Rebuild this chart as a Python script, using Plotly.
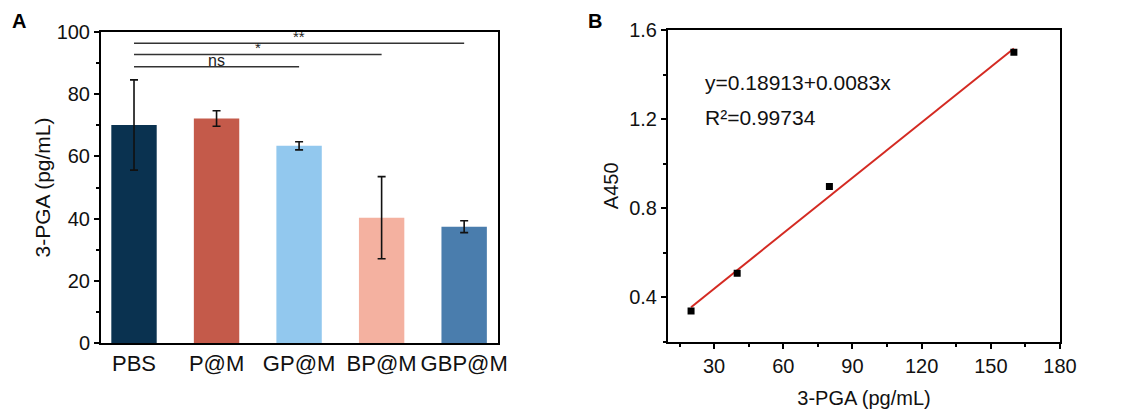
import plotly.graph_objects as go

# ---------- Panel A data ----------
groups = ["PBS", "P@M", "GP@M", "BP@M", "GBP@M"]
means = [70.1, 72.2, 63.4, 40.3, 37.4]
errors = [14.5, 2.5, 1.3, 13.2, 1.9]
bar_colors = ["#0a3250", "#c45a4a", "#92c8ee", "#f4b1a0", "#4a7dad"]
sig_start = [0, 0, 0]
sig_end = [2, 3, 4]
sig_y = [88.8, 92.8, 96.4]
sig_label = ["ns", "*", "**"]
a_yticks = [0, 20, 40, 60, 80, 100]

# ---------- Panel B data ----------
conc = [20, 40, 80, 160]
a450 = [0.338, 0.508, 0.897, 1.50]
fit_x = [20, 160]
fit_y = [0.355, 1.517]
b_xticks = [30, 60, 90, 120, 150, 180]
b_yticks = [0.4, 0.8, 1.2, 1.6]
eq_text = ["y=0.18913+0.0083x", "R²=0.99734"]
eq_pos_y = [1.364, 1.207]

FONT = "Arial, Liberation Sans, sans-serif"
pos = list(range(len(groups)))

fig = go.Figure()
fig.add_trace(go.Bar(
    x=pos, y=means, width=0.55,
    marker=dict(color=bar_colors, line=dict(width=0)),
    error_y=dict(type="data", array=errors, visible=True, color="#111111",
                 thickness=1.6, width=4),
    xaxis="x", yaxis="y", showlegend=False))

fig.add_trace(go.Scatter(
    x=fit_x, y=fit_y, mode="lines", line=dict(color="#d42a22", width=2),
    xaxis="x2", yaxis="y2", showlegend=False))
fig.add_trace(go.Scatter(
    x=conc, y=a450, mode="markers",
    marker=dict(symbol="square", size=7, color="black"),
    xaxis="x2", yaxis="y2", showlegend=False))

shapes = []
annotations = []
for s, e, yv, lab in zip(sig_start, sig_end, sig_y, sig_label):
    shapes.append(dict(type="line", xref="x", yref="y", x0=s, x1=e, y0=yv, y1=yv,
                       line=dict(color="#333333", width=1.5)))
    annotations.append(dict(xref="x", yref="y", x=(s + e) / 2, y=yv, text=lab,
                            showarrow=False, yanchor="bottom", yshift=-4,
                            font=dict(family=FONT, size=16 if lab == "ns" else 15,
                                      color="#222222")))

for t, yv in zip(eq_text, eq_pos_y):
    annotations.append(dict(xref="x2", yref="y2", x=25.2, y=yv,
                            text=t, showarrow=False, xanchor="left",
                            font=dict(family=FONT, size=21, color="#111111")))

annotations.append(dict(xref="paper", yref="paper", x=10 / 1126, y=1 - 21 / 416,
                        text="<b>A</b>", showarrow=False, xanchor="left",
                        yanchor="middle",
                        font=dict(family=FONT, size=20, color="black")))
annotations.append(dict(xref="paper", yref="paper", x=586 / 1126, y=1 - 21 / 416,
                        text="<b>B</b>", showarrow=False, xanchor="left",
                        yanchor="middle",
                        font=dict(family=FONT, size=20, color="black")))

axis_common = dict(showline=True, linecolor="black", linewidth=2, mirror=True,
                   showgrid=False, zeroline=False, ticks="outside",
                   tickcolor="black", tickwidth=2, ticklen=5, automargin=False,
                   tickfont=dict(family=FONT, size=20, color="#111111"))

fig.update_layout(
    width=1126, height=416,
    margin=dict(l=0, r=0, t=0, b=0, autoexpand=False),
    paper_bgcolor="white", plot_bgcolor="white",
    xaxis=dict(**{**axis_common, "ticks": "",
                  "tickfont": dict(family=FONT, size=22, color="#111111")},
               domain=[101 / 1126, 498 / 1126], range=[-0.4, 4.41],
               tickmode="array", tickvals=pos, ticktext=groups, anchor="y"),
    yaxis=dict(**axis_common, domain=[73 / 416, 384 / 416], range=[0, 100],
               tickmode="array", tickvals=a_yticks, anchor="x",
               minor=dict(ticks="outside", dtick=10, ticklen=3, tickwidth=2,
                          tickcolor="black", showgrid=False),
               title=dict(text="3-PGA (pg/mL)", standoff=0,
                          font=dict(family=FONT, size=21, color="#111111"))),
    xaxis2=dict(**axis_common, domain=[668 / 1126, 1060 / 1126], range=[10, 180],
                tickmode="array", tickvals=b_xticks, anchor="y2",
                minor=dict(ticks="outside", dtick=15, tick0=0, ticklen=3,
                           tickwidth=2, tickcolor="black", showgrid=False),
                title=dict(text="3-PGA (pg/mL)", standoff=15,
                           font=dict(family=FONT, size=20, color="#111111"))),
    yaxis2=dict(**axis_common, domain=[74.3 / 416, 386 / 416], range=[0.2, 1.6],
                tickmode="array", tickvals=b_yticks, ticktext=["0.4", "0.8", "1.2", "1.6"],
                anchor="x2",
                minor=dict(ticks="outside", dtick=0.2, tick0=0, ticklen=3,
                           tickwidth=2, tickcolor="black", showgrid=False),
                title=dict(text="A450", standoff=5,
                           font=dict(family=FONT, size=20, color="#111111"))),
    shapes=shapes, annotations=annotations,
)

fig.write_html("out.html")
